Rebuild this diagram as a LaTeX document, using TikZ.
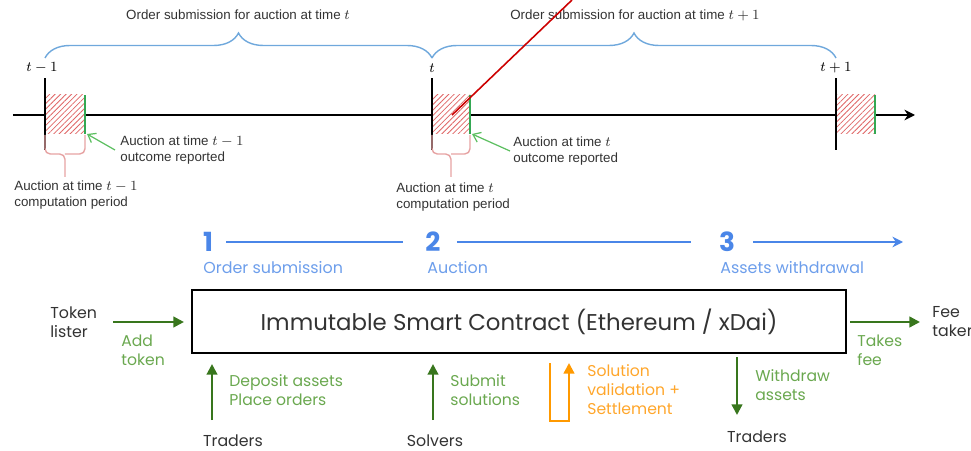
\documentclass[tikz,border=0pt]{standalone}
\usepackage{fontspec}
\setmainfont{Liberation Sans}
\newfontfamily\gfont{Poppins}
\usetikzlibrary{arrows.meta, positioning, decorations.pathreplacing, patterns.meta}
\definecolor{ink}{HTML}{333333}
\definecolor{timeblue}{HTML}{6FA8DC}
\definecolor{stageblue}{HTML}{4A86E8}
\definecolor{stagesoft}{HTML}{6D9EEB}
\definecolor{hatchred}{HTML}{E06666}
\definecolor{bracered}{HTML}{E6A3A3}
\definecolor{tickgreen}{HTML}{34A853}
\definecolor{pointgreen}{HTML}{5CBF60}
\definecolor{flowgreen}{HTML}{38761D}
\definecolor{textgreen}{HTML}{6AA84F}
\definecolor{settleline}{HTML}{FF9900}
\definecolor{settletext}{HTML}{FFA62B}
\definecolor{annot}{HTML}{CC0000}
\tikzset{
  >={Stealth[length=6pt, width=6pt]},
  %
  tlbl/.style={font=\fontsize{7.6}{8.6}\selectfont, text=ink, align=left, inner sep=0pt},
  ticklbl/.style={font=\fontsize{8}{9}\selectfont, inner sep=0pt},
  axis/.style={draw=black, line width=1.1pt},
  tickline/.style={draw=black, line width=1.6pt},
  outcome/.style={draw=tickgreen, line width=1.6pt},
  compbox/.style={fill=white, postaction={pattern={Lines[angle=45, distance=2.2pt, line width=0.45pt]}, pattern color=hatchred}},
  subbrace/.style={draw=timeblue, line width=0.8pt, decorate,
                   decoration={brace, amplitude=0.5cm}},
  compbrace/.style={draw=bracered, line width=0.8pt, rounded corners=3pt},
  pointer/.style={draw=pointgreen, line width=0.7pt, -{Straight Barb[length=4pt, width=6pt]}},
  %
  stagenum/.style={font=\gfont\bfseries\fontsize{15}{18}\selectfont, text=stageblue, inner sep=0pt},
  stagelbl/.style={font=\gfont\fontsize{9.05}{11}\selectfont, text=stagesoft, inner sep=0pt, anchor=west},
  stageline/.style={draw=stageblue, line width=1.1pt},
  %
  contract/.style={draw=black, line width=1.2pt, minimum width=13.08cm, minimum height=1.26cm,
                   font=\gfont\fontsize{13}{15}\selectfont, text=ink},
  actor/.style={font=\gfont\fontsize{9}{10.8}\selectfont, text=ink, align=left, inner sep=0pt},
  gtext/.style={font=\gfont\fontsize{8.9}{10.8}\selectfont, text=textgreen, align=left, inner sep=0pt, anchor=west},
  otext/.style={gtext, text=settletext},
  gflow/.style={draw=flowgreen, line width=1.3pt, -{Triangle[length=6pt, width=6pt]}},
  settle/.style={draw=settleline, line width=1.3pt, -{Triangle[length=6pt, width=6pt]}},
}
\begin{document}
\begin{tikzpicture}[x=1cm, y=1cm]
\useasboundingbox (0,0) rectangle (19.42,9);

% ---------------------------------------------------------------- timeline
\coordinate (start) at (0.26,6.70);
\coordinate (end) at (18.30,6.70);
\draw[axis, ->] (start) -- (end);

\foreach \x/\w/\n in {0.90/1.70/a, 8.64/9.40/b, 16.72/17.50/c} {
  \path[compbox] (\x,6.32) rectangle (\w,7.10);
  \draw[outcome] (\w,6.32) -- (\w,7.10);
  \draw[tickline] (\x,6.00) -- (\x,7.44);
  \coordinate (tick\n) at (\x,7.84);
  \coordinate (res\n) at (\w,6.32);
}

\node[ticklbl] (ta) at (0.84,7.64) {$t-1$};
\node[ticklbl] (tb) at (8.64,7.64) {$t$};
\node[ticklbl] (tc) at (16.72,7.64) {$t+1$};

% ---------------------------------------------------------------- braces
\draw[subbrace] (ticka) -- (tickb);
\draw[subbrace] (tickb) -- (tickc);
\node[tlbl] (suba) at (4.76,8.70) {Order submission for auction at time $t$};
\node[tlbl] (subb) at (12.70,8.70) {Order submission for auction at time $t+1$};

\foreach \x/\w in {0.90/1.70, 8.64/9.40} {
  \draw[compbrace] (\x,6.30) -- (\x,5.92) -- ({(\x+\w)/2},5.92) -- ({(\x+\w)/2},5.46);
  \draw[compbrace] (\w,6.30) -- (\w,5.92) -- ({(\x+\w)/2},5.92);
}
\node[tlbl, anchor=west] (compa) at (0.28,5.10) {Auction at time $t-1$\\computation period};
\node[tlbl, anchor=west] (compb) at (7.92,5.06) {Auction at time $t$\\computation period};

\node[tlbl, anchor=west] (outa) at (2.40,6.00) {Auction at time $t-1$\\outcome reported};
\node[tlbl, anchor=west] (outb) at (10.26,5.98) {Auction at time $t$\\outcome reported};
\draw[pointer] (outa.west) ++(-0.10,0) -- ([xshift=0.04cm]resa);
\draw[pointer] (outb.west) ++(-0.06,0) -- ([xshift=0.04cm]resb);

\coordinate (mark) at (9.04,6.70);
\coordinate (markend) at (11.44,9.00);
\draw[annot, line width=0.9pt] (mark) -- (markend);

% ---------------------------------------------------------------- stages
\node[stagenum] (n1) at (4.16,4.16) {1};
\node[stagenum] (n2) at (8.66,4.16) {2};
\node[stagenum] (n3) at (14.54,4.16) {3};
\coordinate (n4) at (18.06,4.16);
\draw[stageline, shorten <=0.26cm, shorten >=0.44cm] (n1) -- (n2);
\draw[stageline, shorten <=0.32cm, shorten >=0.56cm] (n2) -- (n3);
\draw[stageline, ->, shorten <=0.36cm] (n3) -- (n4);
\node[stagelbl] at (4.06,3.64) {Order submission};
\node[stagelbl] at (8.54,3.64) {Auction};
\node[stagelbl] at (14.40,3.64) {Assets withdrawal};

% ---------------------------------------------------------------- contract
\node[contract] (sc) at (10.38,2.57) {Immutable Smart Contract (Ethereum / xDai)};

\node[actor, anchor=west] (lister) at (1.00,2.56) {Token\\lister};
\node[actor, anchor=west] (fee) at (18.64,2.56) {Fee\\taker};
\node[actor] (traders) at (4.66,0.18) {Traders};
\node[actor] (solvers) at (8.70,0.18) {Solvers};
\node[actor] (withdrawers) at (15.14,0.26) {Traders};

\draw[gflow] (2.26,2.56) coordinate (add) -- (add -| sc.west) [shorten >=0.14cm];
\draw[gflow, shorten <=0.06cm] (sc.east |- fee.west) -- (18.40,2.56) coordinate (take);

\coordinate (dep) at (4.24,0.60);
\coordinate (sub) at (8.66,0.60);
\coordinate (valL) at (11.00,1.74);
\coordinate (valR) at (11.38,1.74);
\coordinate (wd) at (14.74,0.70);
\draw[gflow, shorten >=0.2cm] (dep) -- (dep |- sc.south);
\draw[gflow, shorten >=0.2cm] (sub) -- (sub |- sc.south);
\draw[settle] (valL) |- (11.19,0.58) -| (valR);
\draw[gflow, shorten <=0.06cm] (wd |- sc.south) -- (wd);

\node[gtext] at (2.42,2.00) {Add\\token};
\node[gtext] at (17.14,2.00) {Takes\\fee};
\node[gtext] at (4.58,1.20) {Deposit assets\\Place orders};
\node[gtext] at (9.00,1.20) {Submit\\solutions};
\node[otext] at (11.74,1.20) {Solution\\validation +\\Settlement};
\node[gtext] at (15.10,1.30) {Withdraw\\assets};

\end{tikzpicture}
\end{document}
